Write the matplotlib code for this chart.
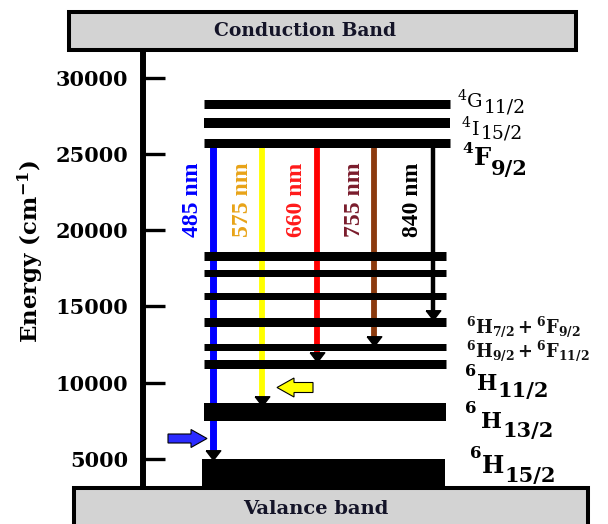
import matplotlib.pyplot as plt
from matplotlib.patches import Rectangle, FancyArrow
from matplotlib.transforms import Affine2D

plt.rcParams['font.family'] = 'DejaVu Serif'
plt.rcParams['mathtext.fontset'] = 'dejavuserif'

# Dy3+ energy levels (cm^-1), as placed on the diagram
level_energy = [28250, 27050, 25700, 18300, 17200, 15700, 13950, 12350, 11200, 8050]
ground_band = [0, 5000]  # 6H15/2 ground manifold
yticks = [5000, 10000, 15000, 20000, 25000, 30000]

# emissions out of 4F9/2
emit_labels = ['485 nm', '575 nm', '660 nm', '755 nm', '840 nm']
emit_start = level_energy[2]
emit_end = [ground_band[1], level_energy[9], level_energy[8], level_energy[7], level_energy[6]]

line_colors = ['#0000ff', '#ffff00', '#ff0000', '#8b3a0e', '#000000']
text_colors = ['#0000ff', '#e8a317', '#ff1a1a', '#7a1c2c', '#000000']

# layout (image pixels)
W, H = 608, 524
E_BOT, E_TOP = 720, 35100
bar_px = [9, 10, 9, 9, 7, 7, 9, 7, 9, 18]
bar_x0 = [204] * 10
bar_x1 = [450, 450, 450] + [446] * 7
emit_x = [213, 262, 317, 374, 433]
emit_lw = [5.0, 4.2, 4.2, 4.2, 3.2]

fig = plt.figure(figsize=(W / 100, H / 100), dpi=100)
ax = fig.add_axes([0, 0, 1, 1])
ax.set_xlim(0, W)
ax.set_ylim(E_BOT, E_TOP)
per_px = (E_TOP - E_BOT) / H
pix = Affine2D().scale(1, -1).translate(0, H)  # x right, y down


def e_at(p):
    return E_TOP - p * per_px


# energy axis
for s in ['top', 'right', 'bottom']:
    ax.spines[s].set_visible(False)
ax.spines['left'].set_position(('data', 143))
ax.spines['left'].set_linewidth(4.3)
ax.spines['left'].set_bounds(e_at(487), e_at(52))
ax.set_xticks([])
ax.set_yticks(yticks)
ax.tick_params(axis='y', direction='in', length=16, width=2.4, pad=10.5, labelsize=15)
for t in ax.get_yticklabels():
    t.set_fontweight('bold')
ax.text(31, 252, r'Energy (cm$^{\mathbf{-1}}$)', transform=pix, rotation=90,
        ha='center', va='center', fontsize=16.5, fontweight='bold')

# levels
ax.hlines(level_energy, bar_x0, bar_x1, colors='black',
          linewidths=[w * 0.72 for w in bar_px], zorder=3)
ax.bar(202, ground_band[1] - ground_band[0], bottom=ground_band[0], width=243,
       align='edge', color='black', zorder=3)

# emission arrows
head = [(-1, 0.65), (1, 0.65), (0, -0.65), (-1, 0.65)]
ends_px = [-1] + [bar_px[i] / 2 - 2 for i in (9, 8, 7, 6)]
for x, e_end, off, c, lw, lab, tc in zip(emit_x, emit_end, ends_px, line_colors,
                                         emit_lw, emit_labels, text_colors):
    tip = e_end + off * per_px
    ax.vlines(x, tip + 5 * per_px, emit_start, colors=c, linewidth=lw, zorder=2)
    ax.plot(x, tip + 4.5 * per_px, marker=head, ms=10.5, color='black', zorder=4)
    ax.text(x - 20, 200, lab, transform=pix, rotation=90, ha='center', va='center',
            color=tc, fontsize=17, fontweight='bold', family='Liberation Serif')

# pump arrows
ax.add_patch(FancyArrow(168, 438.5, 39, 0, width=9, head_width=18, head_length=16,
                        length_includes_head=True, transform=pix,
                        facecolor='#2b2bff', edgecolor='black', lw=0.8, zorder=6))
ax.add_patch(FancyArrow(313, 387.5, -36, 0, width=10, head_width=19, head_length=17,
                        length_includes_head=True, transform=pix,
                        facecolor='#ffff00', edgecolor='black', lw=0.8, zorder=6))

# bands
ax.add_patch(Rectangle((69, 12), 507, 38, transform=pix, facecolor='#d3d3d3',
                       edgecolor='black', lw=2.9, zorder=5))
ax.add_patch(Rectangle((74, 487.5), 514, 60, transform=pix, facecolor='#d3d3d3',
                       edgecolor='black', lw=2.9, zorder=5))
ax.text(305, 31, 'Conduction Band', transform=pix, ha='center', va='center',
        fontsize=13.5, fontweight='bold', color='#141428', zorder=6)
ax.text(316, 509, 'Valance band', transform=pix, ha='center', va='center',
        fontsize=14, fontweight='bold', color='#141428', zorder=6)

# term symbols: (text, x, baseline, size)
terms = [
    ('normal', [('4', 458, 100, 10), ('G', 467, 107, 14), ('11/2', 484, 113, 13.5)]),
    ('normal', [('4', 462, 127, 10), ('I', 472, 135, 14), ('15/2', 481, 138, 13.5)]),
    ('bold', [('4', 462, 153, 11), ('F', 474, 165, 17.5), ('9/2', 491, 175, 15)]),
    ('bold', [('6', 465, 376, 11.5), ('H', 477, 390, 15.5), ('11/2', 497, 397, 15)]),
    ('bold', [('6', 465, 413, 12), ('H', 481, 428, 16), ('13/2', 502, 437, 15)]),
    ('bold', [('6', 470, 458, 12), ('H', 482, 473, 17), ('15/2', 504, 482, 15)]),
]
for weight, parts in terms:
    for txt, x, base, size in parts:
        ax.text(x, base, txt, transform=pix, fontsize=size, fontweight=weight,
                ha='left', va='baseline')
ax.text(466, 333, r'$\mathbf{{}^{6}H_{7/2} + {}^{6}F_{9/2}}$', transform=pix,
        fontsize=12.8, ha='left', va='baseline', color='#111111')
ax.text(466, 357, r'$\mathbf{{}^{6}H_{9/2} + {}^{6}F_{11/2}}$', transform=pix,
        fontsize=12.8, ha='left', va='baseline', color='#111111')

fig.savefig('out.png', dpi=100)
